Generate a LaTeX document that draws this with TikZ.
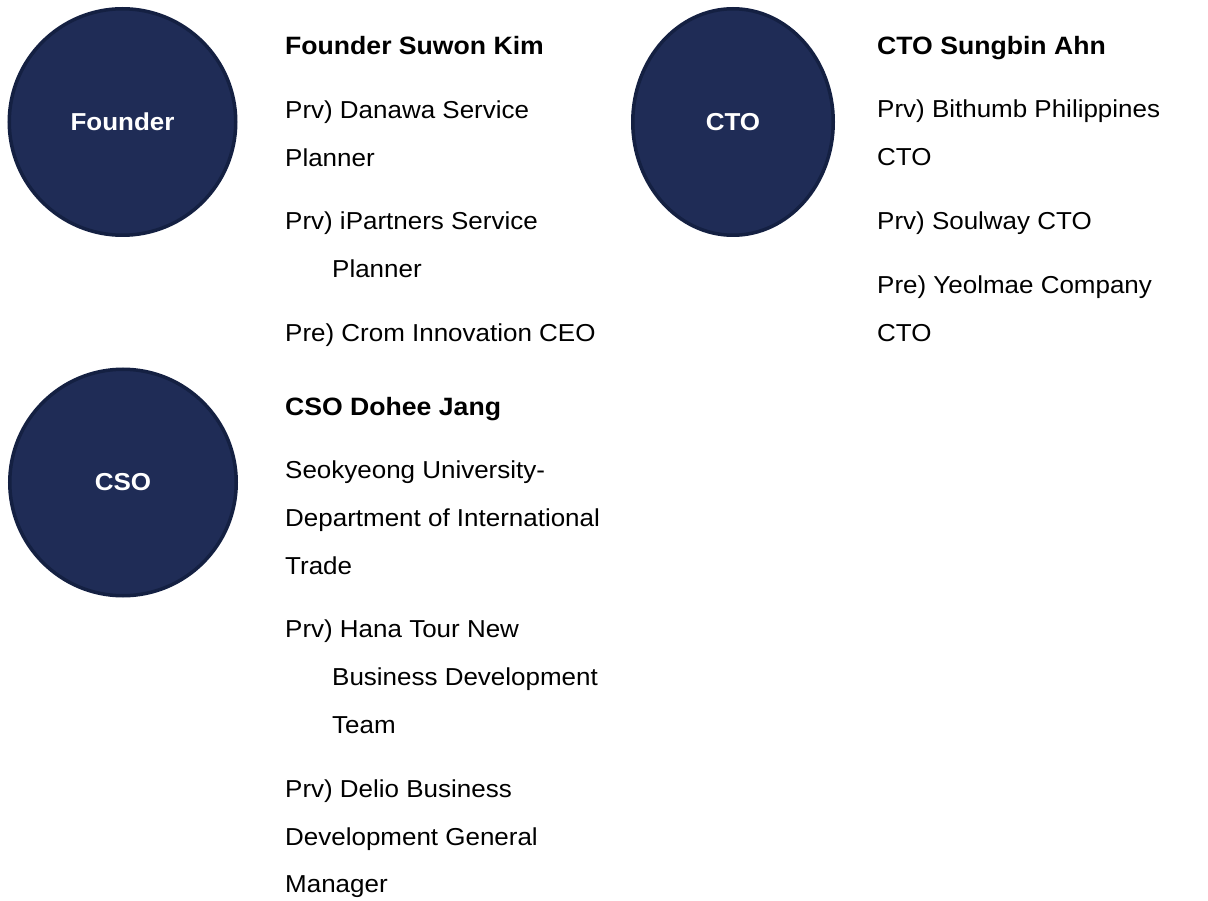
\documentclass[tikz,border=0pt]{standalone}
\usepackage{fontspec}
\setmainfont{Liberation Sans}[FakeStretch=1.06]
\usetikzlibrary{shapes.geometric}
\definecolor{navy}{HTML}{1F2C56}
\definecolor{navyline}{HTML}{142042}
\begin{document}
\begin{tikzpicture}[x=1pt,y=-1pt,
  badge/.style={circle, fill=navy, draw=navyline, line width=3.5pt, inner sep=0pt,
    minimum size=226.5pt, text=white, font=\bfseries\fontsize{24.5}{30}\selectfont},
  ovalbadge/.style={ellipse, fill=navy, draw=navyline, line width=3.5pt, inner sep=0pt,
    minimum width=200.5pt, minimum height=226.5pt, text=white, font=\bfseries\fontsize{24.5}{30}\selectfont},
  head/.style={anchor=base west, inner sep=0pt, font=\bfseries\fontsize{25.1}{30}\selectfont},
  txt/.style={anchor=base west, inner sep=0pt, font=\fontsize{24.5}{30}\selectfont}]
\useasboundingbox (0,0) rectangle (1208,901);

% role badges
\node[badge] (founder) at (122.5,122) {Founder};
\node[ovalbadge] (cto) at (733,122) {CTO};
\node[badge] (cso) at (123,482.5) {CSO};

% founder profile
\node[head] (fh) at (285,55) {Founder Suwon Kim};
\node[txt] (f1) at (285,119) {Prv) Danawa Service};
\node[txt] (f1b) at (285,167) {Planner};
\node[txt] (f2) at (285,230) {Prv) iPartners Service};
\node[txt] (f2b) at (332,278) {Planner};
\node[txt] (f3) at (285,342) {Pre) Crom Innovation CEO};

% CTO profile
\node[head] (th) at (877,55) {CTO Sungbin Ahn};
\node[txt] (t1) at (877,118) {Prv) Bithumb Philippines};
\node[txt] (t1b) at (877,166) {CTO};
\node[txt] (t2) at (877,230) {Prv) Soulway CTO};
\node[txt] (t3) at (877,294) {Pre) Yeolmae Company};
\node[txt] (t3b) at (877,342) {CTO};

% CSO profile
\node[head] (sh) at (285,415) {CSO Dohee Jang};
\node[txt] (s1) at (285,478) {Seokyeong University-};
\node[txt] (s1b) at (285,526) {Department of International};
\node[txt] (s1c) at (285,574) {Trade};
\node[txt] (s2) at (285,637) {Prv) Hana Tour New};
\node[txt] (s2b) at (332,685) {Business Development};
\node[txt] (s2c) at (332,733) {Team};
\node[txt] (s3) at (285,797) {Prv) Delio Business};
\node[txt] (s3b) at (285,845) {Development General};
\node[txt] (s3c) at (285,892) {Manager};
\end{tikzpicture}
\end{document}
